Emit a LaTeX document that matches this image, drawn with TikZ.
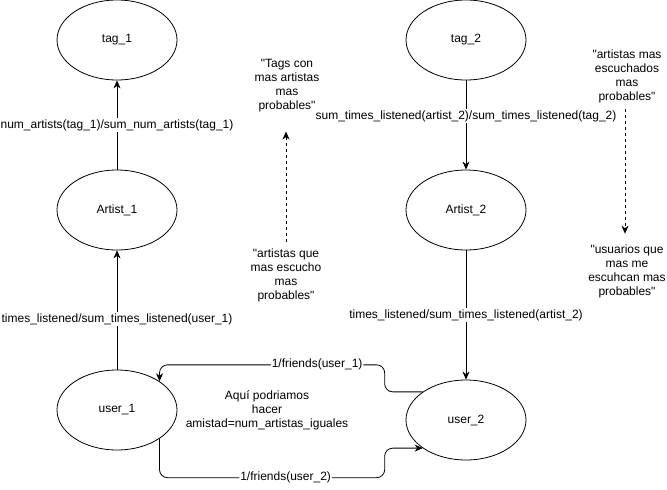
\documentclass[tikz,border=0pt]{standalone}
\usepackage{fontspec}
\setmainfont{Liberation Sans}[Ligatures=TeXOff]
\usetikzlibrary{shapes.geometric,arrows.meta,calc}
\begin{document}
\begin{tikzpicture}[x=1pt,y=-1pt,
  font=\fontsize{12}{14}\selectfont,
  ell/.style={draw, ellipse, line width=0.8pt, minimum width=120pt, minimum height=80pt, inner sep=0pt},
  arr/.style={line width=0.8pt, -{Stealth[length=8pt,width=7pt,inset=2.5pt]}},
  lbl/.style={fill=white, inner sep=1pt},
  note/.style={align=center, inner sep=2pt},
  dotarr/.style={line width=0.8pt, dash pattern=on 3pt off 3pt, -{Stealth[length=8pt,width=7pt,inset=2.5pt]}}]
\useasboundingbox (0,0) rectangle (667,490);
\node[ell] (t1) at (117,40) {tag\_1};
\node[ell] (a1) at (117,210) {Artist\_1};
\node[ell] (u1) at (117,410) {user\_1};
\node[ell] (t2) at (466,40) {tag\_2};
\node[ell] (a2) at (466,210) {Artist\_2};
\node[ell] (u2) at (466,420) {user\_2};

\draw[arr] (a1) -- node[lbl, pos=0.5] {num\_artists(tag\_1)/sum\_num\_artists(tag\_1)} (t1);
\draw[arr] (u1) -- node[lbl, pos=0.425] {times\_listened/sum\_times\_listened(user\_1)} (a1);
\draw[arr] (t2) -- node[lbl, pos=0.4] {sum\_times\_listened(artist\_2)/sum\_times\_listened(tag\_2)} (a2);
\draw[arr] (a2) -- node[lbl, pos=0.5] {times\_listened/sum\_times\_listened(artist\_2)} (u2);

\draw[arr, rounded corners=8pt] (u2.147) -- ++(-38,0) -- ++(0,-27) -| node[lbl, pos=0.15] {1/friends(user\_1)} (u1.34);
\draw[arr, rounded corners=8pt] (u1.-34) -- ++(0,39) -| node[lbl, pos=0.28] {1/friends(user\_2)} ($(u2.213)+(-38,0)$) -- (u2.213);

\node[note] (amis) at (267,410) {Aquí podriamos\\hacer\\amistad=num\_artistas\_iguales};

\node[note] (tl) at (287,86) {"Tags con\\mas artistas\\mas\\probables"};
\node[note] (bl) at (286,275) {"artistas que\\mas escucho\\mas\\probables"};
\node[note] (tr) at (627,76) {"artistas mas\\escuchados\\mas\\probables"};
\node[note] (br) at (627,271.5) {"usuarios que\\mas me\\escuhcan mas\\probables"};

\draw[dotarr, shorten <=4pt, shorten >=17pt] (bl.north -| 286,0) -- (tl.south -| 286,0);
\draw[dotarr, shorten <=4pt, shorten >=9pt] (tr.south -| 625,0) -- (br.north -| 625,0);
\end{tikzpicture}
\end{document}
